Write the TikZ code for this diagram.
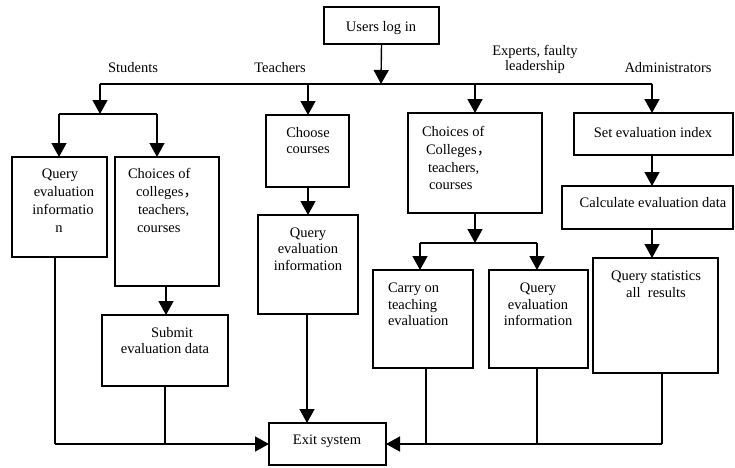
\documentclass[tikz,border=0pt]{standalone}
\usepackage{fontspec}
\setmainfont{Liberation Serif}
\newfontfamily\cjk{Noto Sans CJK SC}
\usetikzlibrary{arrows.meta}
\newcommand\mybox[5]{\node[box, minimum width={#4-#2}, minimum height={#5-#3}] (#1) at ({(#2+#4)/2},{(#3+#5)/2}) {};}
\newcommand\ctxt[4]{\node[txt, anchor=base] (#1) at (#2,#3) {#4};}
\newcommand\ltxt[4]{\node[txt, anchor=base west] (#1) at (#2,#3) {#4};}
\begin{document}
\begin{tikzpicture}[x=1pt,y=-1pt,
  box/.style={draw=black, line width=1.4pt, inner sep=0pt, outer sep=0pt},
  txt/.style={inner sep=0pt, outer sep=0pt, font=\fontsize{14.5}{17.7}\selectfont},
  line/.style={draw=black, line width=1.4pt},
  arr/.style={line, -{Triangle[width=15pt,length=14pt]}}]
\useasboundingbox (0,0) rectangle (735,467);
% boxes
\mybox{login}{324}{7}{439}{44}
\mybox{qs}{12}{157}{107}{257}
\mybox{cs}{115}{157}{219}{286}
\mybox{sub}{102}{315}{228}{386}
\mybox{cc}{266}{115}{349}{187}
\mybox{qt}{258}{215}{358}{314}
\mybox{ce}{408}{113}{542}{213}
\mybox{co}{373}{270}{473}{368}
\mybox{qe}{489}{270}{588}{368}
\mybox{sei}{574}{113}{733}{155}
\mybox{ced}{562}{186}{733}{229}
\mybox{qsr}{593}{258}{718}{373}
\mybox{exit}{269}{423}{386}{465}
% texts
\ctxt{t1}{381}{31}{Users log in}
\ctxt{t2}{133}{72}{Students}
\ctxt{t3}{280}{72}{Teachers}
\ctxt{t4}{535}{55}{Experts, faulty}
\ctxt{t5}{535}{70}{leadership}
\ctxt{t6}{668}{72}{Administrators}
\ctxt{qs1}{60}{178}{Query}
\ctxt{qs2}{64}{196}{evaluation}
\ctxt{qs3}{63}{214}{informatio}
\ctxt{qs4}{59}{232}{n}
\ltxt{cs1}{128}{178}{Choices of}
\ltxt{cs2}{136}{196}{colleges{\cjk ，}}
\ltxt{cs3}{138}{214}{teachers,}
\ltxt{cs4}{137}{232}{courses}
\ctxt{cc1}{308}{137}{Choose}
\ctxt{cc2}{308}{153}{courses}
\ctxt{qt1}{308}{237}{Query}
\ctxt{qt2}{308}{253}{evaluation}
\ctxt{qt3}{308}{270}{information}
\ctxt{sb1}{172}{337}{Submit}
\ctxt{sb2}{165}{353}{evaluation data}
\ltxt{ce1}{422}{136}{Choices of}
\ltxt{ce2}{426}{154}{Colleges{\cjk ，}}
\ltxt{ce3}{428}{172}{teachers,}
\ltxt{ce4}{429}{189}{courses}
\ltxt{co1}{388}{292}{Carry on}
\ltxt{co2}{388}{309}{teaching}
\ltxt{co3}{388}{325}{evaluation}
\ctxt{qe1}{538}{292}{Query}
\ctxt{qe2}{538}{309}{evaluation}
\ctxt{qe3}{538}{325}{information}
\ctxt{se1}{653}{137}{Set evaluation index}
\ctxt{cd1}{653}{207}{Calculate evaluation data}
\ctxt{qr1}{656}{280}{Query statistics}
\ctxt{qr2}{656}{297}{all\ \ results}
\ctxt{ex1}{327}{444}{Exit system}
% coordinates
\coordinate (busM) at (381,84);
\coordinate (busL) at (100,84);
\coordinate (busT) at (308,84);
\coordinate (busE) at (475,84);
\coordinate (busR) at (652,84);
\coordinate (sbM) at (100,114);
\coordinate (sbL) at (59,114);
\coordinate (sbR) at (157,114);
\coordinate (sx) at (166,0);
\coordinate (qx) at (307,0);
\coordinate (ebM) at (475,243);
\coordinate (ebL) at (420,243);
\coordinate (ebR) at (537,243);
\coordinate (lbL) at (55,444);
\coordinate (lbS) at (165,444);
\coordinate (rbR) at (662,444);
\coordinate (rbC) at (426,444);
\coordinate (rbQ) at (537,444);
% connectors
\draw[arr] (login.south) -- (busM);
\draw[line] (busL) -- (busR);
\draw[arr] (busL) -- (sbM);
\draw[line] (sbL) -- (sbR);
\draw[arr] (sbL) -- (sbL |- qs.north);
\draw[arr] (sbR) -- (sbR |- cs.north);
\draw[arr] (cs.south -| sx) -- (sub.north -| sx);
\draw[arr] (busT) -- (busT |- cc.north);
\draw[arr] (cc.south -| busT) -- (busT |- qt.north);
\draw[arr] (qt.south -| qx) -- (exit.north -| qx);
\draw[arr] (busE) -- (busE |- ce.north);
\draw[arr] (ce.south -| busE) -- (ebM);
\draw[line] (ebL) -- (ebR);
\draw[arr] (ebL) -- (ebL |- co.north);
\draw[arr] (ebR) -- (ebR |- qe.north);
\draw[arr] (busR) -- (busR |- sei.north);
\draw[arr] (sei.south -| busR) -- (busR |- ced.north);
\draw[arr] (ced.south -| busR) -- (busR |- qsr.north);
\draw[line] (qs.south -| lbL) -- (lbL);
\draw[arr] (lbL) -- (exit.west);
\draw[line] (sub.south -| lbS) -- (lbS);
\draw[line] (qsr.south -| rbR) -- (rbR);
\draw[arr] (rbR) -- (exit.east);
\draw[line] (co.south -| rbC) -- (rbC);
\draw[line] (qe.south -| rbQ) -- (rbQ);
\end{tikzpicture}
\end{document}
